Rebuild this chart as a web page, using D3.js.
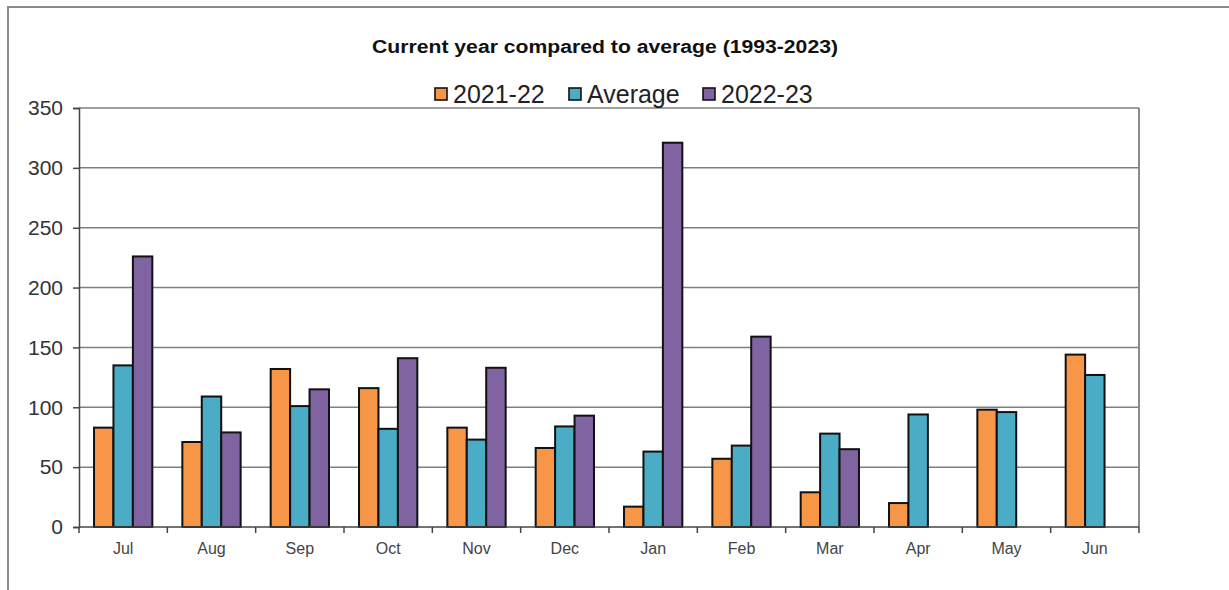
<!DOCTYPE html>
<html>
<head>
<meta charset="utf-8">
<script src="https://cdn.jsdelivr.net/npm/d3@7"></script>
<style>
    body { margin: 0; background: #fff; }
    svg { display: block; font-family: "Liberation Sans", Arial, sans-serif; }
</style>
</head>
<body>
<div id="chart"></div>
<script>
// data
let months = ["Jul", "Aug", "Sep", "Oct", "Nov", "Dec", "Jan", "Feb", "Mar", "Apr", "May", "Jun"];
let seriesNames = ["2021-22", "Average", "2022-23"];
let values2122 = [83, 71, 132, 116, 83, 66, 17, 57, 29, 20, 98, 144];
let valuesAvg = [135, 109, 101, 82, 73, 84, 63, 68, 78, 94, 96, 127];
let values2223 = [226, 79, 115, 141, 133, 93, 321, 159, 65, null, null, null];
let yTicks = [0, 50, 100, 150, 200, 250, 300, 350];

let colors = ["#f79646", "#4bacc6", "#8064a2"];
let series = [values2122, valuesAvg, values2223];

let w = 1229, h = 590;
let margin = {top: 108, right: 90, bottom: 63, left: 79};

let svg = d3.select("#chart")
    .append("svg")
    .attr("width", w)
    .attr("height", h);

// outer frame
svg.append("path")
    .attr("d", "M8," + h + "V7H" + w)
    .attr("fill", "none")
    .attr("stroke", "#8a8a8a")
    .attr("stroke-width", 2);

let x0 = d3.scaleBand()
    .domain(months)
    .range([margin.left, w - margin.right]);

// bars take about two thirds of each month slot, centred
let groupW = x0.bandwidth() * 0.66;
let x1 = d3.scaleBand()
    .domain(d3.range(series.length))
    .range([0, groupW]);

let y = d3.scaleLinear()
    .domain([0, 350])
    .range([h - margin.bottom, margin.top]);

// gridlines
svg.append("g")
    .selectAll("line")
    .data(yTicks.slice(1))
    .enter()
    .append("line")
    .attr("x1", margin.left)
    .attr("x2", w - margin.right)
    .attr("y1", function (d) { return y(d); })
    .attr("y2", function (d) { return y(d); })
    .attr("stroke", "#7f7f7f")
    .attr("stroke-width", 1.5);

// right border of the plot area
svg.append("line")
    .attr("x1", w - margin.right)
    .attr("x2", w - margin.right)
    .attr("y1", margin.top)
    .attr("y2", h - margin.bottom)
    .attr("stroke", "#8a8a8a")
    .attr("stroke-width", 2);

// bars
let groups = svg.append("g")
    .selectAll("g")
    .data(months)
    .enter()
    .append("g")
    .attr("transform", function (d) {
        return "translate(" + (x0(d) + (x0.bandwidth() - groupW) / 2) + ",0)";
    });

groups.selectAll("rect")
    .data(function (d, i) {
        return series.map(function (s, k) { return {k: k, v: s[i]}; })
            .filter(function (e) { return e.v != null; });
    })
    .enter()
    .append("rect")
    .attr("x", function (d) { return x1(d.k); })
    .attr("width", x1.bandwidth())
    .attr("y", function (d) { return y(d.v); })
    .attr("height", function (d) { return y(0) - y(d.v); })
    .attr("fill", function (d) { return colors[d.k]; })
    .attr("stroke", "#111")
    .attr("stroke-width", 2);

// y axis
let yAxis = d3.axisLeft(y).tickValues(yTicks).tickSize(6).tickPadding(10);
let gy = svg.append("g")
    .attr("transform", "translate(" + margin.left + ",0)")
    .call(yAxis);
gy.select(".domain").attr("stroke", "#444").attr("stroke-width", 1.5);
gy.selectAll(".tick line").attr("stroke", "#444").attr("stroke-width", 1.5);
gy.selectAll(".tick text")
    .attr("fill", "#333")
    .style("font-size", "21px")
    .style("font-family", "'Liberation Sans', Arial, sans-serif");

// x axis, ticks between months
let gx = svg.append("g")
    .attr("transform", "translate(0," + y(0) + ")");
gx.append("line")
    .attr("x1", margin.left)
    .attr("x2", w - margin.right)
    .attr("stroke", "#444")
    .attr("stroke-width", 1.5);
gx.selectAll(".sep")
    .data(months.concat(["end"]))
    .enter()
    .append("line")
    .attr("class", "sep")
    .attr("x1", function (d, i) { return margin.left + i * x0.step(); })
    .attr("x2", function (d, i) { return margin.left + i * x0.step(); })
    .attr("y1", 0)
    .attr("y2", 6)
    .attr("stroke", "#444")
    .attr("stroke-width", 1.5);
gx.selectAll(".lbl")
    .data(months)
    .enter()
    .append("text")
    .attr("class", "lbl")
    .attr("x", function (d) { return x0(d) + x0.bandwidth() / 2; })
    .attr("y", 27)
    .attr("text-anchor", "middle")
    .attr("fill", "#444")
    .style("font-size", "16px")
    .text(function (d) { return d; });

// title
svg.append("text")
    .attr("x", 605)
    .attr("y", 53)
    .attr("text-anchor", "middle")
    .attr("fill", "#111")
    .attr("textLength", 466)
    .attr("lengthAdjust", "spacingAndGlyphs")
    .style("font-size", "18px")
    .style("font-weight", "bold")
    .text("Current year compared to average (1993-2023)");

// legend
let legendX = [434, 568, 702];
let legend = svg.append("g")
    .selectAll("g")
    .data(seriesNames)
    .enter()
    .append("g")
    .attr("transform", function (d, i) { return "translate(" + legendX[i] + ",0)"; });

legend.append("rect")
    .attr("x", 1)
    .attr("y", 88)
    .attr("width", 12)
    .attr("height", 12)
    .attr("fill", function (d, i) { return colors[i]; })
    .attr("stroke", "#111")
    .attr("stroke-width", 1.6);

legend.append("text")
    .attr("x", 19)
    .attr("y", 103)
    .attr("fill", "#222")
    .style("font-size", "25px")
    .text(function (d) { return d; });
</script>
</body>
</html>
